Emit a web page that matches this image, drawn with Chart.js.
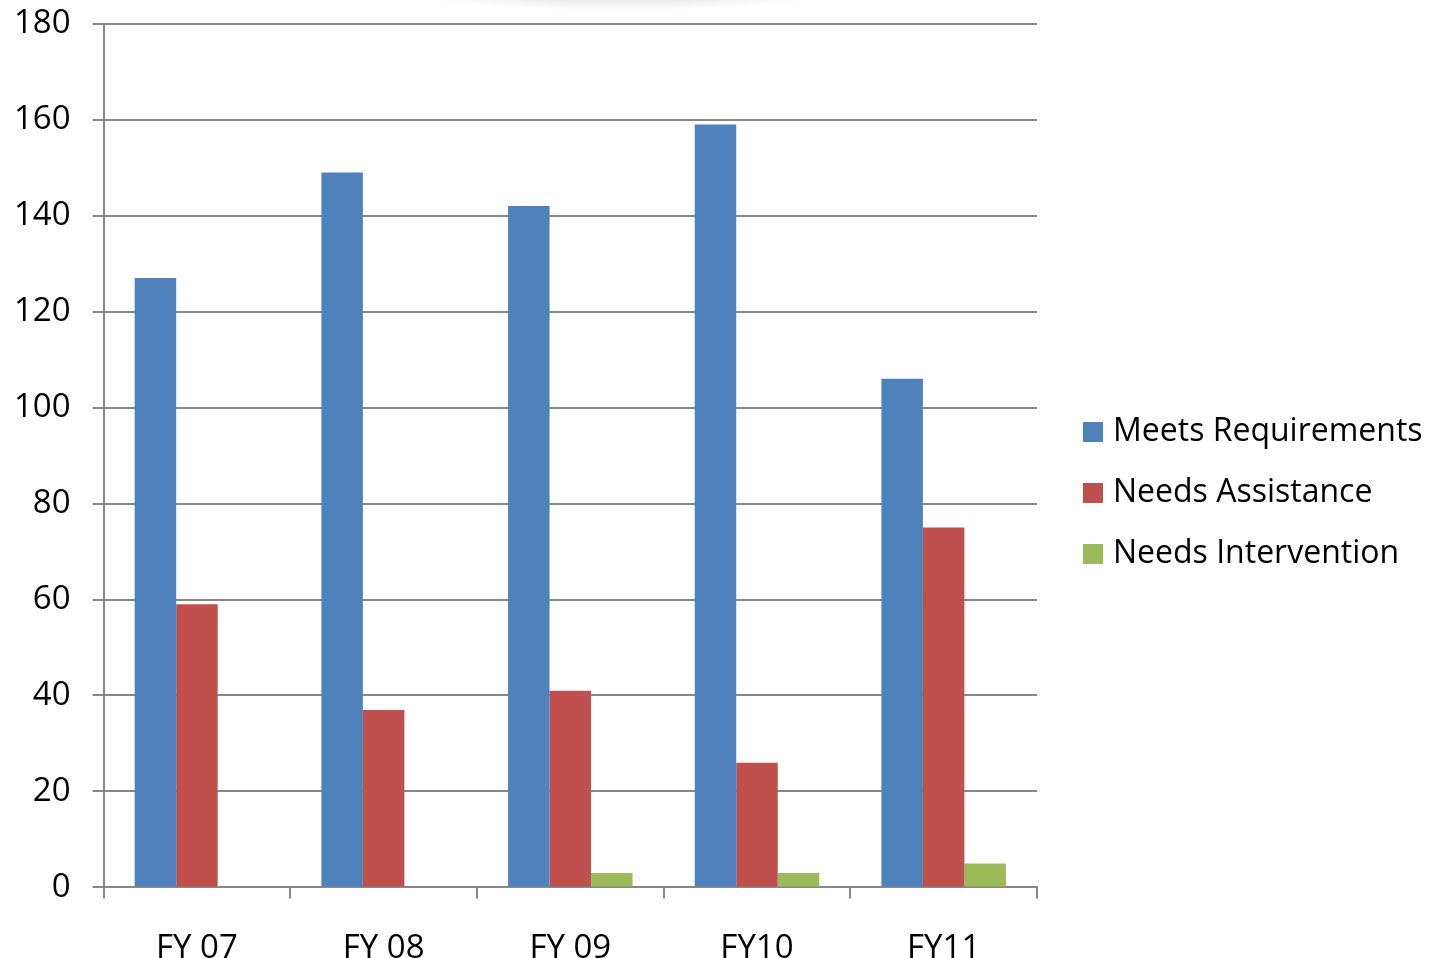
<!DOCTYPE html>
<html>
<head>
<meta charset="utf-8">
<script src="https://cdn.jsdelivr.net/npm/chart.js@4/dist/chart.umd.min.js"></script>
<style>
  html, body { margin: 0; padding: 0; background: #fff; overflow: hidden; }
  #page { width: 1433px; height: 958px; position: relative; overflow: hidden; }
  #wrap { width: 1433px; height: 989px; position: absolute; left: 0; top: -18px; }
</style>
</head>
<body>
<div id="page"><div id="wrap"><canvas id="barChart"></canvas></div></div>
<script>
// data
const years = ['FY 07', 'FY 08', 'FY 09', 'FY10', 'FY11'];
const meetsRequirements = [127, 149, 142, 159, 106];
const needsAssistance = [59, 37, 41, 26, 75];
const needsIntervention = [0, 0, 3, 3, 5];
const seriesNames = ['Meets Requirements', 'Needs Assistance', 'Needs Intervention'];
const seriesColors = ['#4f81bd', '#c0504d', '#9bbb59'];

const fontName = '"Open Sans", sans-serif';
const gridColor = '#878787';
const canvasShift = 18; // canvas sits this many px above the page

// legend drawn to the right of the plot, like the office chart
const sideLegend = {
  id: 'sideLegend',
  afterDraw(chart) {
    const ctx = chart.ctx;
    const x = chart.chartArea.right + 46;
    const rowGap = 61;
    const midY = 493 + canvasShift;
    ctx.save();
    ctx.font = '32px ' + fontName;
    ctx.textBaseline = 'middle';
    ctx.textAlign = 'left';
    chart.data.datasets.forEach((ds, i) => {
      const y = midY + (i - 1) * rowGap;
      ctx.fillStyle = ds.backgroundColor;
      ctx.fillRect(x, y - 10, 20, 20);
      ctx.fillStyle = '#000';
      ctx.fillText(ds.label, x + 30, y);
    });
    ctx.restore();
  }
};

// faint shadow at the top edge
const topShadow = {
  id: 'topShadow',
  beforeDraw(chart) {
    const ctx = chart.ctx;
    ctx.save();
    ctx.translate(620, canvasShift - 4);
    ctx.scale(1, 0.07);
    const g = ctx.createRadialGradient(0, 0, 0, 0, 0, 200);
    g.addColorStop(0, 'rgba(0,0,0,0.13)');
    g.addColorStop(1, 'rgba(0,0,0,0)');
    ctx.fillStyle = g;
    ctx.beginPath();
    ctx.arc(0, 0, 200, 0, Math.PI * 2);
    ctx.fill();
    ctx.restore();
  }
};

function makeDataset(idx, values) {
  return {
    label: seriesNames[idx],
    data: values,
    backgroundColor: seriesColors[idx],
    borderWidth: 0,
    barPercentage: 1,
    categoryPercentage: 0.667
  };
}

new Chart(document.getElementById('barChart'), {
  type: 'bar',
  data: {
    labels: years,
    datasets: [
      makeDataset(0, meetsRequirements),
      makeDataset(1, needsAssistance),
      makeDataset(2, needsIntervention)
    ]
  },
  options: {
    responsive: true,
    maintainAspectRatio: false,
    animation: false,
    layout: { padding: { top: -12, right: 396, left: -8, bottom: -27 } },
    plugins: {
      legend: { display: false },
      tooltip: { enabled: false }
    },
    scales: {
      x: {
        offset: true,
        grid: {
          offset: true,
          drawOnChartArea: false,
          color: gridColor,
          lineWidth: 2,
          tickLength: 11
        },
        border: { color: gridColor, width: 2 },
        ticks: {
          color: '#000',
          font: { family: fontName, size: 33 },
          padding: 30
        }
      },
      y: {
        min: 0,
        max: 180,
        grid: {
          color: gridColor,
          lineWidth: 2,
          tickLength: 11
        },
        border: { color: gridColor, width: 2 },
        ticks: {
          stepSize: 20,
          color: '#000',
          font: { family: fontName, size: 33 },
          padding: 22
        }
      }
    }
  },
  plugins: [topShadow, sideLegend]
});
</script>
</body>
</html>
